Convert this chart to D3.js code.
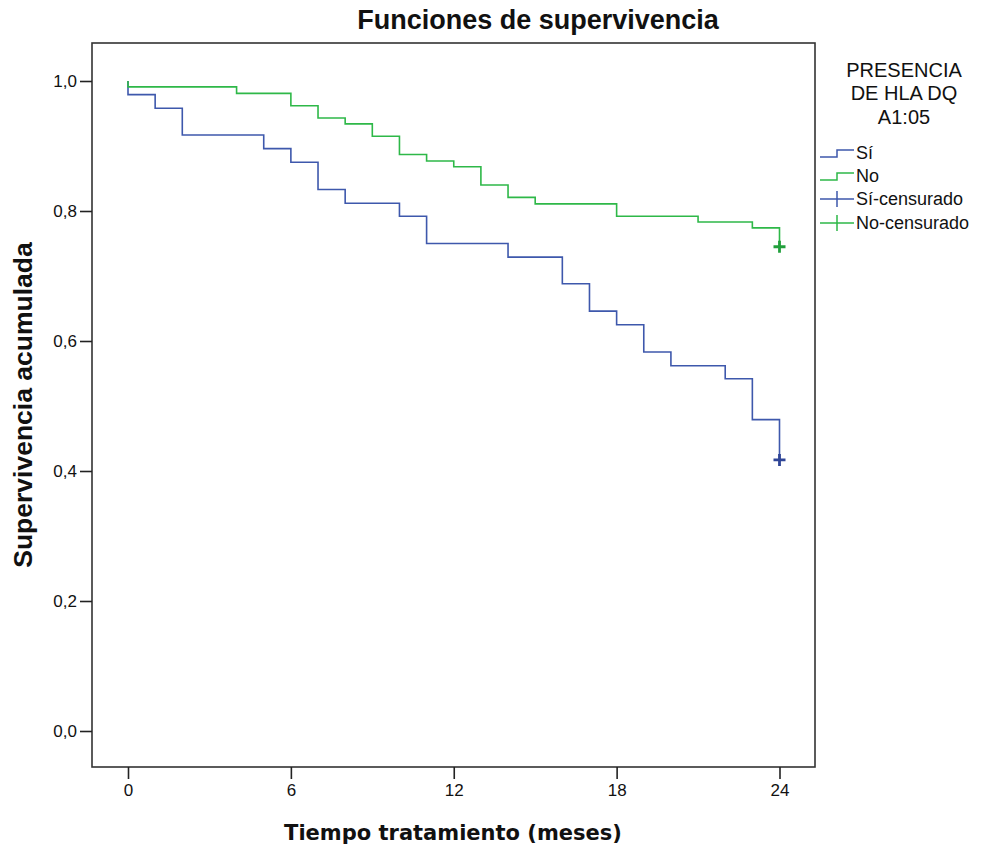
<!DOCTYPE html>
<html>
<meta charset="utf-8">
<style>
    body {
        margin: 0;
        background: #fff;
    }

    text {
        font-family: 'Liberation Sans', Arial, sans-serif;
        fill: #111;
    }
</style>

<body>
    <svg id="chart" width="984" height="851"></svg>
    <script src="https://d3js.org/d3.v7.min.js"></script>
    <script>

        // survival steps
        const siTimes = [0, 0, 1, 2, 5, 6, 7, 8, 10, 11, 14, 16, 17, 18, 19, 20, 22, 23, 24];
        const siSurv = [1, 0.979, 0.958, 0.917, 0.896, 0.875, 0.833, 0.812, 0.792, 0.750, 0.729, 0.688, 0.646, 0.625, 0.583, 0.562, 0.542, 0.479, 0.417];
        const noTimes = [0, 0, 4, 6, 7, 8, 9, 10, 11, 12, 13, 14, 15, 18, 21, 23, 24];
        const noSurv = [1, 0.991, 0.981, 0.962, 0.943, 0.934, 0.915, 0.887, 0.877, 0.868, 0.840, 0.821, 0.811, 0.792, 0.783, 0.774, 0.745];

        const censorTimes = [24, 24];
        const censorSurv = [0.417, 0.745];

        const xTicks = [0, 6, 12, 18, 24];
        const yTicks = [0, 0.2, 0.4, 0.6, 0.8, 1.0];

        const groupNames = ["Sí", "No"];
        const legendLabels = ["Sí", "No", "Sí-censurado", "No-censurado"];
        const legendTitle = ["PRESENCIA", "DE HLA DQ", "A1:05"];

        const blue = "#3e58ac";
        const green = "#2eb848";

        const chart = d3.select("#chart");

        const frame = { left: 92, right: 815, top: 43, bottom: 767 };

        const x = d3.scaleLinear().domain([0, 24]).range([128, 779.5]);
        const y = d3.scaleLinear().domain([0, 1]).range([731, 81]);

        chart.append("rect")
            .attr("x", frame.left)
            .attr("y", frame.top)
            .attr("width", frame.right - frame.left)
            .attr("height", frame.bottom - frame.top)
            .attr("fill", "none")
            .attr("stroke", "#333")
            .attr("stroke-width", 1.6);

        // axes
        const yAxis = d3.axisLeft(y)
            .tickValues(yTicks)
            .tickSize(12)
            .tickPadding(3)
            .tickFormat(d => d3.format(".1f")(d).replace(".", ","));

        const yG = chart.append("g")
            .attr("transform", "translate(" + frame.left + ",0)")
            .call(yAxis);

        const xAxis = d3.axisBottom(x)
            .tickValues(xTicks)
            .tickSize(12)
            .tickPadding(5);

        const xG = chart.append("g")
            .attr("transform", "translate(0," + frame.bottom + ")")
            .call(xAxis);

        [xG, yG].forEach(g => {
            g.select(".domain").remove();
            g.selectAll(".tick line").attr("stroke", "#222").attr("stroke-width", 1.6);
            g.selectAll(".tick text")
                .style("font-family", "'Liberation Sans', Arial, sans-serif")
                .style("font-size", "17px")
                .attr("fill", "#222");
        });

        // curves
        const line = d3.line()
            .x(d => x(d[0]))
            .y(d => y(d[1]))
            .curve(d3.curveStepAfter);

        const curves = [
            { name: groupNames[0], color: blue, pts: d3.zip(siTimes, siSurv) },
            { name: groupNames[1], color: green, pts: d3.zip(noTimes, noSurv) }
        ];

        chart.selectAll(".curve")
            .data(curves)
            .enter()
            .append("path")
            .attr("class", "curve")
            .attr("d", d => line(d.pts))
            .attr("fill", "none")
            .attr("stroke", d => d.color)
            .attr("stroke-width", 1.6);

        // censored marks
        const censor = chart.selectAll(".censor")
            .data(d3.zip(censorTimes, censorSurv))
            .enter()
            .append("g")
            .attr("transform", d => "translate(" + x(d[0]) + "," + y(d[1]) + ")");

        censor.append("path")
            .attr("d", "M-6,0H6M0,-6V6")
            .attr("stroke", (d, i) => i == 0 ? "#2f4597" : "#22a03c")
            .attr("stroke-width", 2.8);

        // titles
        chart.append("text")
            .attr("x", 538)
            .attr("y", 29)
            .attr("text-anchor", "middle")
            .style("font-size", "27px")
            .style("font-weight", "bold")
            .text("Funciones de supervivencia");

        chart.append("text")
            .attr("x", 453)
            .attr("y", 840)
            .attr("text-anchor", "middle")
            .style("font-family", "'DejaVu Sans', sans-serif")
            .style("font-size", "21px")
            .style("font-weight", "bold")
            .text("Tiempo tratamiento (meses)");

        chart.append("text")
            .attr("transform", "translate(32,405) rotate(-90)")
            .attr("text-anchor", "middle")
            .style("font-size", "26.5px")
            .style("font-weight", "bold")
            .text("Supervivencia acumulada");

        // legend
        chart.append("g")
            .selectAll("text")
            .data(legendTitle)
            .enter()
            .append("text")
            .attr("x", 904)
            .attr("y", (d, i) => 77 + i * 23.4)
            .attr("text-anchor", "middle")
            .style("font-size", "20px")
            .text(d => d);

        const legendY = [153, 176, 199, 223];
        const legendColors = [blue, green, blue, green];

        const legend = chart.append("g")
            .selectAll("g")
            .data(legendLabels)
            .enter()
            .append("g")
            .attr("transform", (d, i) => "translate(820," + legendY[i] + ")");

        legend.append("path")
            .attr("d", (d, i) => i < 2 ? "M0,4H17V-3H34" : "M0,0H34M17,-8V8")
            .attr("fill", "none")
            .attr("stroke", (d, i) => legendColors[i])
            .attr("stroke-width", 1.5);

        legend.append("text")
            .attr("x", 36)
            .attr("dy", "0.35em")
            .style("font-size", "18px")
            .text(d => d);

    </script>
</body>

</html>
